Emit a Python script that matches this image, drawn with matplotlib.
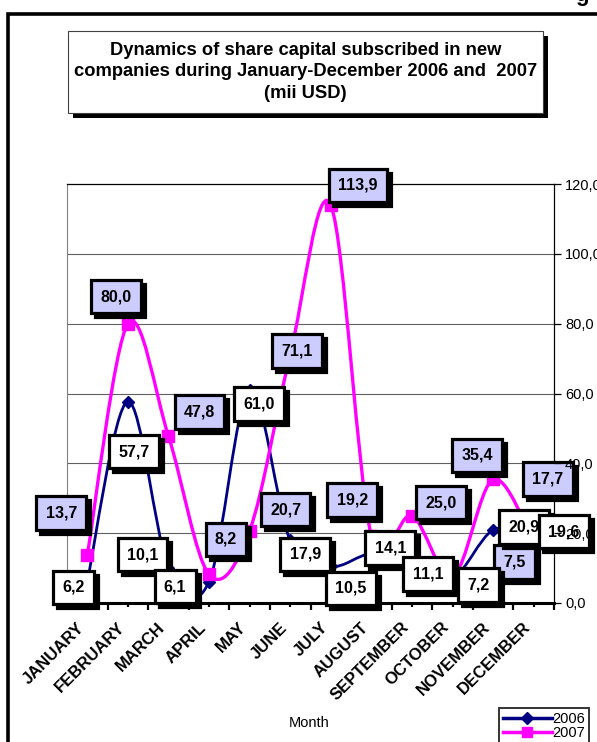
import numpy as np
import matplotlib
matplotlib.use("Agg")
import matplotlib.pyplot as plt
from matplotlib.path import Path
from matplotlib.patches import PathPatch, Rectangle
from matplotlib.lines import Line2D
from matplotlib.transforms import ScaledTranslation

plt.rcParams['font.family'] = ['Liberation Sans', 'DejaVu Sans']

months = ['JANUARY', 'FEBRUARY', 'MARCH', 'APRIL', 'MAY', 'JUNE', 'JULY',
          'AUGUST', 'SEPTEMBER', 'OCTOBER', 'NOVEMBER', 'DECEMBER']
vals_2006 = [6.2, 57.7, 10.1, 6.1, 61.0, 17.9, 10.5, 14.1, 11.1, 7.2, 20.9, 19.6]
vals_2007 = [13.7, 80.0, 47.8, 8.2, 20.7, 71.1, 113.9, 19.2, 25.0, 7.5, 35.4, 17.7]
yticks = [0, 20, 40, 60, 80, 100, 120]

# label box offsets from the point, in pixels (dx, dy)
off_2006 = [(-14, -6), (6, -50), (-26, 13), (-34, -5), (9, -14), (15, -14),
            (20, -22), (19, 6), (16, -10), (26, -7), (31, 3), (30, 3)]
off_2007 = [(-26, 42), (-12, 27), (31, 24), (17, 35), (36, 21), (7, 4),
            (27, 20), (-19, 36), (29, 13), (62, 15), (-16, 24), (14, 62)]

NAVY = '#000080'
MAGENTA = '#FF00FF'
LAVENDER = '#CCCCFF'

W, H = 597, 742
fig = plt.figure(figsize=(W / 100, H / 100), dpi=100)
fig.patch.set_facecolor('white')


def fx(px):
    return px / W


def fy(py):
    return 1 - py / H


def smooth_path(x, y):
    # Excel-like smoothed line: Catmull-Rom as cubic Bezier segments
    pts = np.column_stack([x, y]).astype(float)
    n = len(pts)
    verts = [pts[0]]
    codes = [Path.MOVETO]
    for i in range(n - 1):
        p0 = pts[max(i - 1, 0)]
        p1 = pts[i]
        p2 = pts[i + 1]
        p3 = pts[min(i + 2, n - 1)]
        verts += [p1 + (p2 - p0) / 6, p2 - (p3 - p1) / 6, p2]
        codes += [Path.CURVE4] * 3
    return Path(verts, codes)


# outer frame
fig.patches.append(Rectangle((fx(8), -0.2), 1.2, fy(14) + 0.2, transform=fig.transFigure,
                             fill=False, ec='black', lw=2.6))

# title box with shadow
tx0, ty0, tx1, ty1 = 68, 31, 543, 113
fig.patches.append(Rectangle((fx(tx0 + 5), fy(ty1 + 5)), fx(tx1 - tx0), (ty1 - ty0) / H,
                             transform=fig.transFigure, fc='black', ec='black', lw=0))
fig.patches.append(Rectangle((fx(tx0), fy(ty1)), fx(tx1 - tx0), (ty1 - ty0) / H,
                             transform=fig.transFigure, fc='white', ec='#404040', lw=0.8))
fig.text(fx((tx0 + tx1) / 2), fy(72),
         'Dynamics of share capital subscribed in new\n'
         'companies during January-December 2006 and  2007\n(mii USD)',
         ha='center', va='center', fontsize=13.2, fontweight='bold', linespacing=1.35)

# cut-off heading glyph at the top
fig.text(fx(575), fy(1), 'g', fontsize=16, fontweight='bold', va='baseline')

ax = fig.add_axes([fx(67), fy(603), fx(554 - 67), (603 - 184) / H])
x = np.arange(len(months))
ax.set_xlim(-0.5, len(months) - 0.5)
ax.set_ylim(0, 120)

for t in yticks[1:-1]:
    ax.axhline(t, color='#606060', lw=0.8, zorder=0.5)

ax.add_patch(PathPatch(smooth_path(x, vals_2006), fill=False, ec=NAVY, lw=2.0, zorder=2))
ax.add_patch(PathPatch(smooth_path(x, vals_2007), fill=False, ec=MAGENTA, lw=2.4, zorder=2.1))
ax.plot(x, vals_2006, ls='none', marker='D', ms=6.5, color=NAVY, zorder=2.2)
ax.plot(x, vals_2007, ls='none', marker='s', ms=8, color=MAGENTA, zorder=2.3)


def box_label(xv, yv, text, off, fc, z):
    kw = dict(xy=(xv, yv), textcoords='offset pixels', ha='center', va='center',
              fontsize=11.5, fontweight='bold', annotation_clip=False)
    ax.annotate(text, xytext=(off[0] + 4, off[1] - 4), color='none', zorder=z,
                bbox=dict(boxstyle='square,pad=0.58', fc='black', ec='black', lw=2.3), **kw)
    ax.annotate(text, xytext=off, color='black', zorder=z + 0.01,
                bbox=dict(boxstyle='square,pad=0.58', fc=fc, ec='black', lw=2.3), **kw)


for i, v in enumerate(vals_2007):
    box_label(x[i], v, f'{v:.1f}'.replace('.', ','), off_2007[i], LAVENDER, 3 + i * 0.02)
for i, v in enumerate(vals_2006):
    box_label(x[i], v, f'{v:.1f}'.replace('.', ','), off_2006[i], 'white', 3.5 + i * 0.02)

# axes styling
ax.spines['left'].set_color('#808080')
ax.spines['left'].set_linewidth(0.8)
ax.spines['top'].set_linewidth(0.9)
ax.spines['right'].set_linewidth(0.9)
ax.spines['bottom'].set_linewidth(2.2)
ax.yaxis.tick_right()
ax.set_yticks(yticks)
ax.set_yticklabels([f'{t:.1f}'.replace('.', ',') for t in yticks], fontsize=10.5)
ax.tick_params(axis='y', direction='out', length=5, width=0.9, pad=3, left=False)
ax.yaxis.set_zorder(6)

ax.set_xticks(x)
ax.set_xticks(np.arange(-0.5, len(months), 1), minor=True)
ax.set_xticklabels(months, rotation=45, ha='right', va='top', rotation_mode='anchor',
                   fontsize=12, fontweight='bold')
ax.tick_params(axis='x', which='major', direction='out', length=3, width=1.6, pad=9)
ax.tick_params(axis='x', which='minor', direction='out', length=5, width=1.6)
shift = ScaledTranslation(-11 / 100, 0, fig.dpi_scale_trans)
for lbl in ax.get_xticklabels():
    lbl.set_transform(lbl.get_transform() + shift)

fig.text(fx(309), fy(723), 'Month', ha='center', va='center', fontsize=10.5)

handles = [Line2D([], [], color=NAVY, lw=2.5, marker='D', ms=6),
           Line2D([], [], color=MAGENTA, lw=2.5, marker='s', ms=7)]
leg = fig.legend(handles, ['2006', '2007'], loc='upper left',
                 bbox_to_anchor=(fx(499), fy(708)), fontsize=10.5, frameon=True,
                 fancybox=False, edgecolor='black', handlelength=3.4, handletextpad=0.0,
                 borderpad=0.25, labelspacing=0.0, borderaxespad=0)
leg.get_frame().set_linewidth(1.4)

fig.savefig('out.png', dpi=100)
